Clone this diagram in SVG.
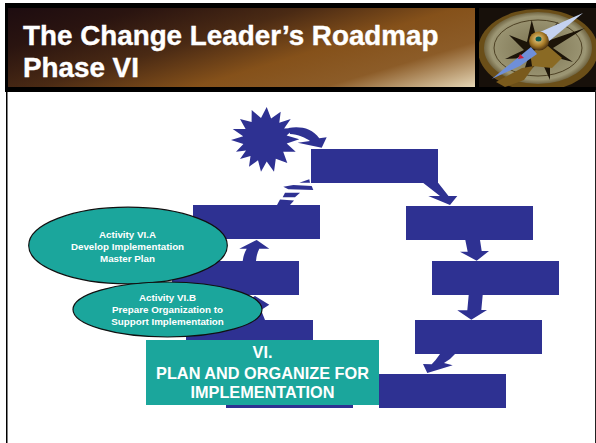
<svg xmlns="http://www.w3.org/2000/svg" width="596" height="443" viewBox="0 0 596 443">
<style>
.box{fill:#2e3192}
.arrow{fill:#2e3192}
.teal{fill:#1ba69c}
.ell{fill:#1ba69c;stroke:#101010;stroke-width:1.2}
text{font-family:"Liberation Sans",Arial,sans-serif;font-weight:bold;text-anchor:middle;fill:#fff}
.title{font-size:27.8px;text-anchor:start;stroke:#fff;stroke-width:.4}
.act{font-size:9.8px}
.phase{font-size:16.3px}
</style>
<defs>
<linearGradient id="hdr" gradientUnits="userSpaceOnUse" x1="0" y1="0" x2="63" y2="211">
<stop offset="0" stop-color="#1a0a10"/><stop offset="0.22" stop-color="#2a1410"/><stop offset="0.43" stop-color="#4a2a14"/><stop offset="0.63" stop-color="#85511a"/><stop offset="0.8" stop-color="#8c5c28"/><stop offset="1" stop-color="#e6d8b8"/>
</linearGradient>
<radialGradient id="dial" cx="0.5" cy="0.5" r="0.55"><stop offset="0" stop-color="#7a7250"/><stop offset="0.8" stop-color="#9c9674"/><stop offset="1" stop-color="#4c3c18"/></radialGradient>
<radialGradient id="hub" cx="0.45" cy="0.4" r="0.6"><stop offset="0" stop-color="#e8d090"/><stop offset="0.6" stop-color="#a87c28"/><stop offset="1" stop-color="#4a3010"/></radialGradient>
<clipPath id="cmp"><rect x="479" y="8" width="117" height="79"/></clipPath>
</defs>
<rect width="596" height="443" fill="#fff"/>
<rect x="5" y="3" width="591" height="89" fill="#000"/>
<rect x="6" y="90" width="1.500" height="353" fill="#000"/>
<rect x="595" y="90" width="1" height="353" fill="#222"/>
<rect x="8" y="8" width="467" height="79" fill="url(#hdr)"/>
<g id="compass" clip-path="url(#cmp)">
<rect x="479" y="8" width="117" height="79" fill="#17100a"/>
<ellipse cx="538" cy="50" rx="60" ry="41" fill="#6a4e18"/>
<ellipse cx="538" cy="48" rx="54" ry="36" fill="url(#dial)"/>
<ellipse cx="538" cy="48" rx="44" ry="28" fill="none" stroke="#3a2c10" stroke-width="0.8"/>
<polygon points="531.700,20 536,36 545,36 558,22 550,40 585,28 553,48 573,62 550,56 550,80 541,60 521.700,78 528,58 505,59 524,50 509,35 527,42" fill="#1c1408"/>
<polygon points="530,52 548,46 562,58 552,68 532,66" fill="#8a6a24"/>
<polygon points="496,82 522,68 534,66 524,80 505,87" fill="#7a5a1c"/>
<polygon points="491.700,79 531,47 537,54 520,66" fill="#6f8fd8"/>
<polygon points="540,32 583,13 548,42" fill="#c4d2f0"/>
<polygon points="520,54 524,58 518,59" fill="#c8203c"/>
<ellipse cx="539" cy="41" rx="10" ry="9.500" fill="url(#hub)"/>
<ellipse cx="538.500" cy="39" rx="3" ry="2.500" fill="#0a5a50"/>
</g>
<text class="title" x="23" y="44.500">The Change Leader’s Roadmap</text>
<text class="title" x="23" y="76.500">Phase VI</text>
<g id="connectors">
<path class="arrow" d="M288.500 128C300 126 312 128 319.300 138.300L326.700 137.300L321.700 147.700L297.700 142.700L310 141C306 138 298 134 290 134Z"/>
<path class="arrow" d="M423.300 183H438.300L448.500 196L457.300 196L450 205L428.300 196L440 196Z"/>
<path class="arrow" d="M465.300 240H480L481.700 251L489 251L476.700 260.700L460 251.700L467.700 251.700Z"/>
<path class="arrow" d="M468.700 295H482.700L481.300 310L487 310L471.300 319.700L457.300 310.300L467.300 310.300Z"/>
<path class="arrow" d="M440 354H455Q450 360 444 363L452.700 365.300L427.300 373L423 364L431.700 364.300Q436 360 440 354Z"/>
<path class="arrow" d="M246 320L249 304.700L240 304.700L255 296L269.300 304.700L261 310L265 320Z"/>
<path class="arrow" d="M242.700 261Q243.500 254 246.700 248.700L239.300 248.700L256.700 240L269.300 248.700L259.300 248.700Q256.500 254 256 261Z"/>
<g id="dashed-arrow" class="arrow">
<polygon points="277,205 290,205 294,200.500 280,199.500"/>
<polygon points="282.700,197.300 295,197.300 300,192.700 285,192.700"/>
<polygon points="283.300,186.700 293.300,185 311.700,186 313.300,190 288.300,189.300"/>
<polygon points="299.300,182.700 309.300,179.300 310,182.700"/>
</g>
</g>
<g id="start-star"><polygon class="arrow" points="266.700,107 271.100,118.400 280.700,111.700 279.300,122.800 290.700,119 284.100,128.500 295,128 286.600,135.600 299.300,139.300 286.700,143.500 295.700,151.700 283.200,151.800 287.300,163 275.800,158.700 274,171.700 266.700,161.400 261,171.700 258,160.300 249,166.700 250.500,156.100 240,159 246,150.600 236,151.700 243.400,143.900 231,140 243.200,136.200 232.700,129 245.600,129 240,119 251.600,122 251.700,110 261,117.900"/></g>
<g id="n1"><rect class="box" x="311" y="149" width="127" height="34"/></g>
<g id="n2"><rect class="box" x="406" y="206" width="127" height="34"/></g>
<g id="n3"><rect class="box" x="432" y="261" width="127" height="34"/></g>
<g id="n4"><rect class="box" x="415" y="320" width="127" height="34"/></g>
<g id="n5"><rect class="box" x="379" y="374" width="127" height="34"/></g>
<g id="n6"><rect class="box" x="226" y="374" width="127" height="34"/></g>
<g id="n7"><rect class="box" x="186" y="320" width="127" height="34"/></g>
<g id="n8"><rect class="box" x="172" y="261" width="127" height="34"/></g>
<g id="n9"><rect class="box" x="193" y="205" width="127" height="34"/></g>
<g id="activity-a">
<ellipse class="ell" cx="128" cy="245.500" rx="99.300" ry="38.300"/>
<text class="act" x="127.500" y="237.500">Activity VI.A</text>
<text class="act" x="127.500" y="249.500">Develop Implementation</text>
<text class="act" x="127.500" y="261.500">Master Plan</text>
</g>
<g id="activity-b">
<ellipse class="ell" cx="167.500" cy="309.500" rx="94.500" ry="27.500"/>
<text class="act" x="167.500" y="300.500">Activity VI.B</text>
<text class="act" x="167.500" y="312.500">Prepare Organization to</text>
<text class="act" x="167.500" y="324.500">Support Implementation</text>
</g>
<g id="phase">
<rect class="teal" x="146" y="340" width="233" height="65"/>
<text class="phase" x="262.500" y="358">VI.</text>
<text class="phase" x="262.500" y="378.500">PLAN AND ORGANIZE FOR</text>
<text class="phase" x="262.500" y="398">IMPLEMENTATION</text>
</g>
</svg>
